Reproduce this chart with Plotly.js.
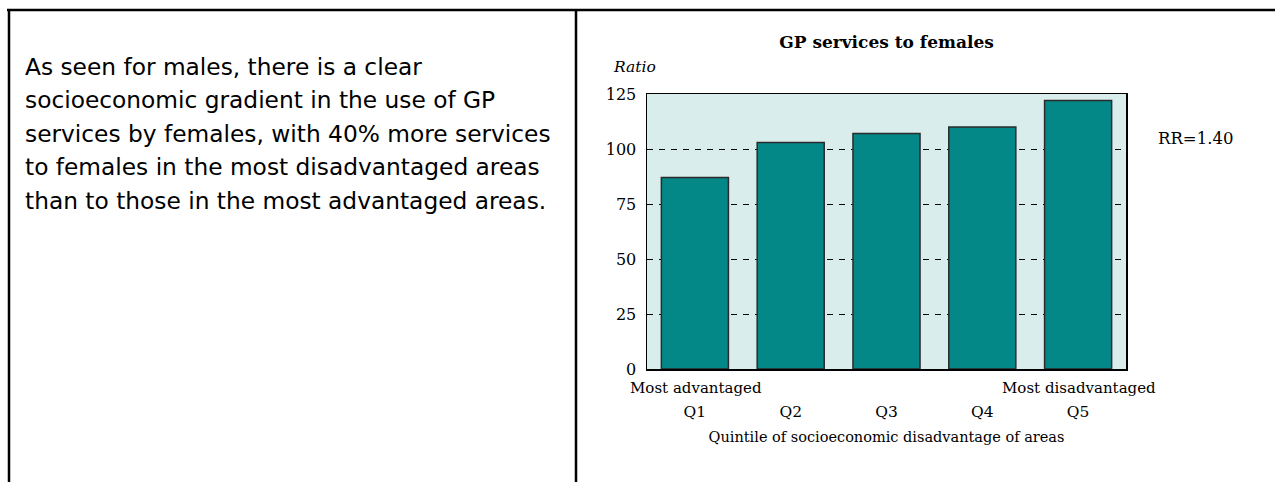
<!DOCTYPE html>
<html>
<head>
<meta charset="utf-8">
<script src="https://cdn.plot.ly/plotly-3.0.1.min.js"></script>
<style>html,body{margin:0;padding:0;background:#fff;}#chart{width:1275px;height:482px;}</style>
</head>
<body>
<div id="chart"></div>
<script>
// ---- data ----
const quintiles = ['Q1', 'Q2', 'Q3', 'Q4', 'Q5'];
const ratios = [87, 103, 107, 110, 122];
const endLabels = ['Most advantaged', 'Most disadvantaged'];
const chartTitle = 'GP services to females';
const yLabel = 'Ratio';
const xLabel = 'Quintile of socioeconomic disadvantage of areas';
const rrLabel = 'RR=1.40';
const bodyLines = [
  'As seen for males, there is a clear',
  'socioeconomic gradient in the use of GP',
  'services by females, with 40% more services',
  'to females in the most disadvantaged areas',
  'than to those in the most advantaged areas.'
];

// ---- geometry helpers (plot area pixels) ----
const W = 1275, H = 482;
const M = {l: 647, r: 149, t: 94, b: 113};
const PW = W - M.l - M.r, PH = H - M.t - M.b;
const px = x => (x - M.l) / PW;
const py = y => (H - M.b - y) / PH;

const serif = 'DejaVu Serif, serif';

const annotations = [];
bodyLines.forEach((t, i) => {
  annotations.push({
    text: t, xref: 'paper', yref: 'paper', x: px(23), y: py(66 + i * 33.5),
    xanchor: 'left', yanchor: 'middle', showarrow: false,
    font: {family: 'DejaVu Sans, sans-serif', size: 23.3, color: '#000'}
  });
});
annotations.push({
  text: yLabel, xref: 'paper', yref: 'paper', x: px(611), y: py(67.5),
  xanchor: 'left', yanchor: 'middle', showarrow: false,
  font: {family: serif, size: 15.5, style: 'italic', color: '#000'}
});
annotations.push({
  text: rrLabel, xref: 'paper', yref: 'paper', x: px(1156), y: py(138),
  xanchor: 'left', yanchor: 'middle', showarrow: false,
  font: {family: serif, size: 16.5, color: '#000'}
});
annotations.push({
  text: endLabels[0], xref: 'paper', yref: 'paper', x: px(695.5), y: py(388),
  xanchor: 'center', yanchor: 'middle', showarrow: false,
  font: {family: serif, size: 15, color: '#000'}
});
annotations.push({
  text: endLabels[1], xref: 'paper', yref: 'paper', x: px(1079), y: py(388),
  xanchor: 'center', yanchor: 'middle', showarrow: false,
  font: {family: serif, size: 15, color: '#000'}
});

const shapes = [
  {type: 'line', xref: 'paper', yref: 'paper', x0: px(7), x1: px(1280), y0: py(10), y1: py(10),
   line: {color: '#000', width: 2.5}},
  {type: 'line', xref: 'paper', yref: 'paper', x0: px(9), x1: px(9), y0: py(10), y1: py(490),
   line: {color: '#000', width: 2.5}},
  {type: 'line', xref: 'paper', yref: 'paper', x0: px(576), x1: px(576), y0: py(10), y1: py(490),
   line: {color: '#000', width: 2.5}}
];

const trace = {
  type: 'bar', x: quintiles, y: ratios,
  marker: {color: '#048787', line: {color: '#2b2b2b', width: 1.5}},
  hoverinfo: 'skip'
};

const layout = {
  width: W, height: H,
  margin: M,
  paper_bgcolor: '#ffffff',
  plot_bgcolor: '#daeded',
  showlegend: false,
  bargap: 0.3,
  title: {
    text: chartTitle, x: 0.5, xref: 'paper', xanchor: 'center',
    y: 1 - 42 / H, yanchor: 'middle',
    font: {family: serif, size: 17, weight: 'bold', color: '#000'}
  },
  xaxis: {
    type: 'category', categoryorder: 'array', categoryarray: quintiles,
    range: [-0.5, quintiles.length - 0.5], autorange: false,
    showline: true, linecolor: '#000', linewidth: 1.5, mirror: true,
    ticks: '', showgrid: false, zeroline: false,
    ticklabelstandoff: 28,
    tickfont: {family: serif, size: 15.5, color: '#000'},
    title: {text: xLabel, standoff: 12, font: {family: serif, size: 14.5, color: '#000'}}
  },
  yaxis: {
    range: [0, 125], autorange: false, tick0: 0, dtick: 25,
    showline: true, linecolor: '#000', linewidth: 1.5, mirror: true,
    showgrid: true, gridcolor: '#000', gridwidth: 1, griddash: '6px,6px',
    zeroline: false, ticks: '',
    ticklabelstandoff: 6,
    tickfont: {family: serif, size: 16, color: '#000'}
  },
  annotations: annotations,
  shapes: shapes
};

Plotly.newPlot('chart', [trace], layout, {staticPlot: true, displayModeBar: false});
</script>
</body>
</html>
